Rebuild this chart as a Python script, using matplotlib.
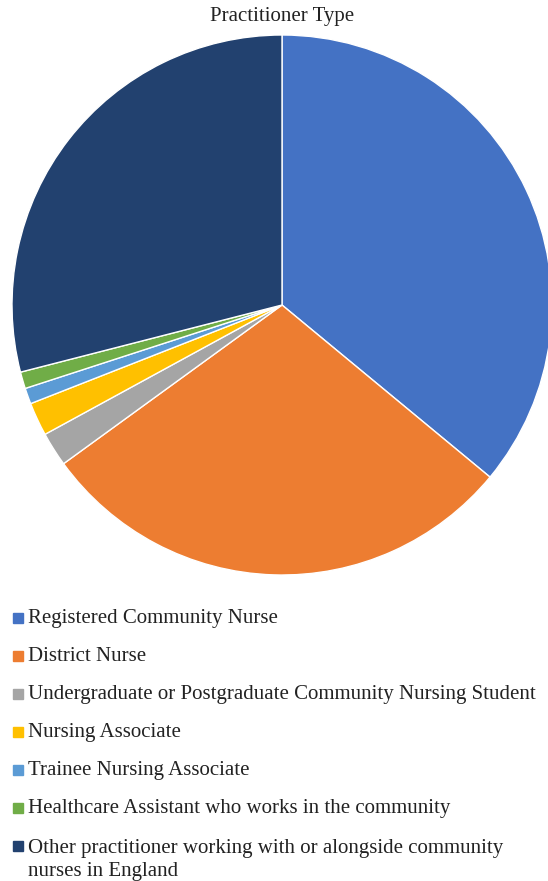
import matplotlib.pyplot as plt
from matplotlib.patches import Rectangle

plt.rcParams['font.family'] = ['Liberation Serif', 'DejaVu Serif']

labels = [
    'Registered Community Nurse',
    'District Nurse',
    'Undergraduate or Postgraduate Community Nursing Student',
    'Nursing Associate',
    'Trainee Nursing Associate',
    'Healthcare Assistant who works in the community',
    'Other practitioner working with or alongside community\nnurses in England',
]
shares = [36.0, 29.0, 2.05, 2.0, 0.95, 1.0, 29.0]
colors = ['#4472C4', '#ED7D31', '#A5A5A5', '#FFC000', '#5B9BD5', '#70AD47', '#22416F']

W, H = 548, 881
fig = plt.figure(figsize=(W / 100, H / 100), dpi=100)

# pie centre at (282, 305) px, radius 270 px
cx, cy, r = 282, 305, 270
ax = fig.add_axes([(cx - r) / W, (H - cy - r) / H, 2 * r / W, 2 * r / H])
ax.pie(shares, colors=colors, startangle=90, counterclock=False,
       wedgeprops=dict(edgecolor='white', linewidth=1.0))
ax.set_xlim(-1, 1)
ax.set_ylim(-1, 1)
ax.axis('off')

fig.text(cx / W, 1 - 17 / H, 'Practitioner Type', ha='center', va='center',
         fontsize=15, color='#222222')

# legend drawn by hand
for i, (lab, col) in enumerate(zip(labels, colors)):
    base = 623 + 38 * i
    fig.patches.append(Rectangle((13 / W, 1 - base / H), 9.5 / W, 10 / H,
                                 transform=fig.transFigure, color=col))
    # baseline of multi-line text refers to its last line
    last = base + 25 * lab.count('\n')
    fig.text(28 / W, 1 - last / H, lab, ha='left', va='baseline',
             fontsize=15, color='#222222', linespacing=1.29)

fig.savefig('out.png', dpi=100)
